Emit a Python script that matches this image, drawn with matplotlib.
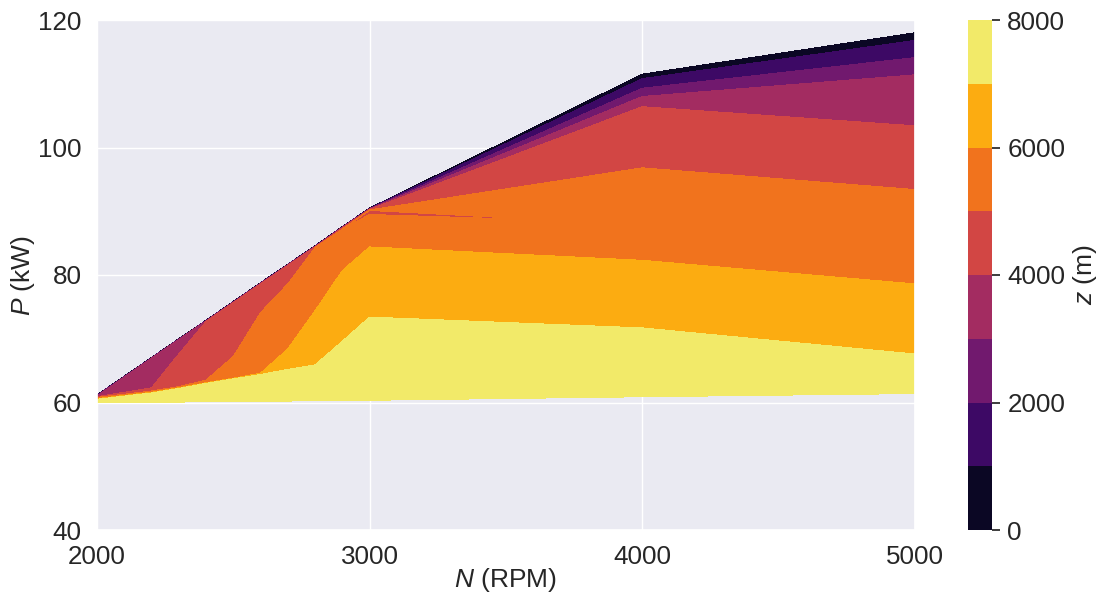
import numpy as np
import matplotlib
matplotlib.use("Agg")
import matplotlib.pyplot as plt
import seaborn as sns

# Drehzahl-Stützstellen (RPM)
N_rpm = [2000, 2200, 2300, 2400, 2500, 2600, 2700, 2800, 2900, 3000, 4000, 5000]

# Leistung P (kW) je Gitterzeile und Drehzahl
P_z0    = [61.2, 67.06, 70.0, 72.9, 75.85, 78.8, 81.7, 84.6, 87.6, 90.5, 111.5, 118.0]
P_z1000 = [61.15, 67.02, 69.96, 72.86, 75.81, 78.76, 81.66, 84.56, 87.56, 90.46, 110.8, 116.8]
P_z2000 = [61.1, 66.98, 69.92, 72.82, 75.77, 78.72, 81.62, 84.52, 87.52, 90.42, 109.3, 114.1]
P_z3000 = [61.0, 66.94, 69.88, 72.78, 75.73, 78.68, 81.58, 84.48, 87.48, 90.38, 108.0, 111.4]
P_z4000 = [60.9, 62.3, 67.6, 72.7, 75.65, 78.6, 81.5, 84.4, 87.4, 90.3, 106.4, 103.4]
P_z5000 = [60.8, 61.8, 62.5, 63.5, 67.2, 74.1, 78.6, 84.3, 87.2, 90.2, 96.8, 93.4]
P_z5500 = [60.8, 61.8, 62.5, 63.5, 67.2, 74.1, 78.6, 84.3, 87.2, 90.0, 87.9, 87.0]
P_z6000 = [60.6, 61.6, 62.3, 63.1, 63.8, 64.6, 68.4, 74.4, 80.7, 84.4, 82.3, 78.6]
P_z7000 = [60.5, 61.5, 62.2, 63.0, 63.7, 64.4, 65.2, 65.9, 69.6, 73.4, 71.7, 67.6]
P_z8000 = [59.95, 60.03, 60.07, 60.11, 60.15, 60.19, 60.23, 60.27, 60.31, 60.35, 60.9, 61.4]

# Höhe z (m) in denselben Gitterpunkten
z_0    = [0] * 12
z_1000 = [1000] * 12
z_2000 = [2000] * 12
z_3000 = [3000] * 12
z_4000 = [4000] * 12
z_5000 = [5000] * 9 + [5050, 5001, 5000]
z_5500 = [5000] * 9 + [4900, 5050, 5050]
z_6000 = [6000] * 12
z_7000 = [7000] * 12
z_8000 = [8000] * 12

P_kw = np.array([P_z0, P_z1000, P_z2000, P_z3000, P_z4000,
                 P_z5000, P_z5500, P_z6000, P_z7000, P_z8000])
z_grid = np.array([z_0, z_1000, z_2000, z_3000, z_4000,
                   z_5000, z_5500, z_6000, z_7000, z_8000])
N_grid = np.tile(N_rpm, (len(P_kw), 1))

levels = np.arange(0, 9000, 1000)

sns.set_theme(style="darkgrid")
plt.rcParams["font.family"] = ["Liberation Sans", "DejaVu Sans"]
plt.rcParams["mathtext.fontset"] = "custom"
plt.rcParams["mathtext.rm"] = "Liberation Sans"
plt.rcParams["mathtext.it"] = "Liberation Sans:italic"
plt.rcParams["xtick.labelsize"] = 18.7
plt.rcParams["ytick.labelsize"] = 18.7
plt.rcParams["axes.labelsize"] = 19
plt.rcParams["xtick.major.pad"] = 5
plt.rcParams["ytick.major.pad"] = 5

fig = plt.figure(figsize=(10.97, 5.98), dpi=100)
ax = fig.add_axes([97 / 1097, 68 / 598, 818 / 1097, 510 / 598])
cax = fig.add_axes([968 / 1097, 68 / 598, 24 / 1097, 510 / 598])

cs = ax.contourf(N_grid, P_kw, z_grid, levels=levels, cmap="inferno")

ax.set_xlim(2000, 5000)
ax.set_ylim(40, 120)
ax.set_xticks([2000, 3000, 4000, 5000])
ax.set_yticks([40, 60, 80, 100, 120])
ax.set_xlabel("$N$ (RPM)", labelpad=-2)
ax.set_ylabel("$P$ (kW)", labelpad=1)

cb = fig.colorbar(cs, cax=cax, ticks=[0, 2000, 4000, 6000, 8000])
cb.set_label("$z$ (m)")
cb.outline.set_visible(False)

fig.savefig("out.png", dpi=100)
